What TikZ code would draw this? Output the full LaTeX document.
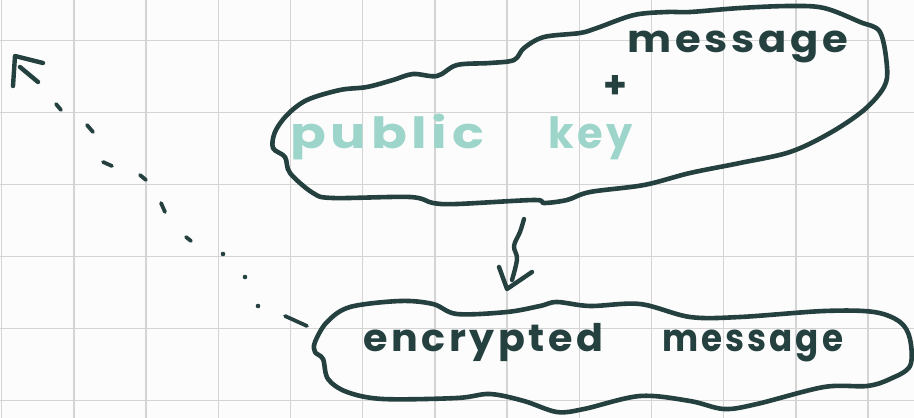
\documentclass[tikz,border=0pt]{standalone}
\usepackage{fontspec}
\usepackage{graphicx}
\newfontfamily\hand[LetterSpace=9]{Poppins}
\definecolor{ink}{HTML}{24403F}
\definecolor{mint}{HTML}{9DD5CB}
\definecolor{paper}{HTML}{FCFCFC}
\definecolor{gridc}{HTML}{D4D4D4}
\tikzset{
  blob/.style={draw=ink, line width=4.6pt, line cap=round, line join=round},
  pen/.style={draw=ink, line width=4.4pt, line cap=round, line join=round},
  dotpen/.style={draw=ink, line width=3.8pt, line cap=round},
  darktext/.style={text=ink, inner sep=0pt, anchor=base west},
  lighttext/.style={text=mint, inner sep=0pt, anchor=base west},
}
\begin{document}
\begin{tikzpicture}[x=1pt,y=-1pt]
\useasboundingbox (0,0) rectangle (914,418);
\fill[paper] (0,0) rectangle (914,418);
% grid
\foreach \k in {0,...,12} \draw[gridc, line width=1.4pt] ({1.7+72.2*\k},0) -- ({1.7+72.2*\k},418);
\foreach \k in {0,...,5} \draw[gridc, line width=1.4pt] (0,{40.7+71.9*\k}) -- (914,{40.7+71.9*\k});

% top blob
\draw[blob] plot[smooth cycle, tension=0.55] coordinates {
(275,132) (287,115) (307,100) (340,90) (367,87) (393,80) (413,74) (437,76) (457,65)
(490,63) (514,60) (524,48) (544,37) (580,33) (597,28) (634,15) (667,12) (690,12)
(740,8) (790,6) (824,8) (860,22) (880,32) (887,67) (884,87) (864,110) (830,133)
(790,152) (740,163) (690,173) (644,185) (590,192) (567,200) (544,203) (534,200)
(457,204) (433,203) (410,197) (333,198) (313,193) (290,173) (285,157) (273,148)};
\coordinate (topblob) at (520,205);

% bottom blob
\draw[blob] plot[smooth cycle, tension=0.55] coordinates {
(315,342) (327,322) (350,307) (400,301) (433,304) (457,314) (507,312) (540,306)
(557,302) (590,306) (640,304) (690,317) (740,317) (824,311) (874,312) (900,322)
(910,339) (910,366) (890,379) (867,386) (824,387) (757,404) (724,409) (690,401)
(640,396) (584,409) (557,412) (524,401) (490,394) (457,398) (383,399) (347,392)
(328,379) (323,359) (315,352)};
\coordinate (botblob) at (507,300);

% texts
\node[lighttext, font=\hand\bfseries\fontsize{43}{43}\selectfont] (pub) at (290,148) {\resizebox{194pt}{\height}{public}};
\node[lighttext, font=\hand\bfseries\fontsize{43}{43}\selectfont] (key) at (548,148) {\resizebox{85pt}{\height}{key}};
\node[darktext, font=\hand\bfseries\fontsize{38}{38}\selectfont] (msg) at (627,52) {\resizebox{221pt}{\height}{message}};
\node[darktext, font=\hand\bfseries\fontsize{38}{38}\selectfont, anchor=center] (plus) at (615,87) {+};
\node[darktext, font=\hand\bfseries\fontsize{38}{38}\selectfont] (enc) at (363,351) {\resizebox{240pt}{\height}{encrypted}};
\node[darktext, font=\hand\bfseries\fontsize{38}{38}\selectfont] (emsg) at (662,351) {\resizebox{181pt}{\height}{message}};

% squiggly arrow
\coordinate (s0) at (524,219);
\coordinate (s5) at (507,289);
\draw[pen] plot[smooth, tension=0.6] coordinates {(s0) (520,232) (514,246) (517,259) (512,280)};
\draw[pen] (499,267) -- (s5) -- (532,272);

% dashed arrow back
\coordinate (d0) at (15,56);
\draw[dotpen] (285,316) -- (307,326);
\fill[ink] (258,306) circle (2.3pt);
\fill[ink] (245,277) circle (2.3pt);
\fill[ink] (223,254) circle (2.3pt);
\draw[dotpen] (186,237) -- (191,241);
\draw[dotpen] (161,203) -- (165,212);
\draw[dotpen] (140,175) -- (146,180);
\draw[dotpen] (103,162) -- (112,166);
\draw[dotpen] (87,125) -- (93,132);
\draw[dotpen] (56,104) -- (61,110);
\draw[pen] (20,67) -- (38,82);
\draw[pen] (13,86) -- (d0) -- (43,63);
\end{tikzpicture}
\end{document}
